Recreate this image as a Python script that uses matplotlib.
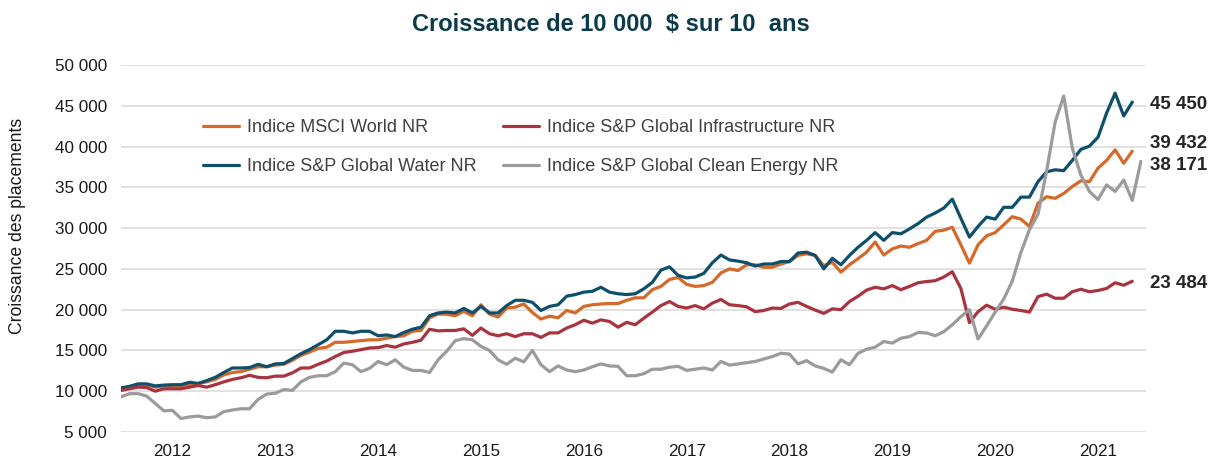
"""
Croissance de 10 000 $ sur 10 ans - four index lines, monthly.
"""

import matplotlib

matplotlib.use("Agg")
import matplotlib.pyplot as plt
import pandas as pd
from matplotlib.ticker import FuncFormatter

plt.rcParams["font.family"] = ["Liberation Sans", "DejaVu Sans"]

# monthly points, July 2011 onwards
months = pd.date_range("2011-07-01", periods=120, freq="MS")

msci_world = [
    10400, 10500, 10800, 10800, 10500, 10650, 10650, 10650, 10850, 10950,
    11150, 11450, 12000, 12300, 12400, 12700, 13000, 13000, 13200, 13300,
    13800, 14400, 14800, 15250,
    15400, 16000, 16000, 16100, 16200, 16300, 16300, 16500, 16700, 16800,
    17350, 17450, 19000, 19450, 19450, 19250, 19800, 19250, 20600, 19450,
    19100, 20200, 20300, 20700,
    19650, 18850, 19200, 19000, 19900, 19600, 20400, 20600, 20700, 20750,
    20750, 21150, 21450, 21450, 22450, 22850, 23700, 23950, 23100, 22850,
    22950, 23350, 24500,
    25000, 24800, 25500, 25500, 25200, 25200, 25600, 25900, 26650, 26850,
    26650, 25400, 25800, 24600, 25500, 26250, 27050, 28300, 26700, 27450,
    27800, 27650, 28100, 28500,
    29600, 29750, 30100, 27950, 25700, 27950, 29050, 29450, 30400, 31400,
    31100, 30200, 33050, 33850, 33650, 34250, 35100, 35800, 35700, 37350,
    38300, 39600, 37950, 39432,
]

global_water = [
    10400, 10600, 10900, 10900, 10650, 10750, 10800, 10800, 11100, 10950,
    11300, 11700, 12300, 12850, 12850, 12900, 13300, 13000, 13350, 13400,
    14000, 14600, 15100, 15700,
    16300, 17350, 17350, 17150, 17350, 17350, 16800, 16900, 16700, 17200,
    17600, 17850, 19250, 19600, 19700, 19600, 20150, 19600, 20400, 19600,
    19600, 20500, 21150, 21150,
    20900, 19900, 20400, 20600, 21650, 21850, 22150, 22250, 22750, 22150,
    21950, 21850, 21950, 22550, 23350, 24850, 25250, 24200, 23900, 24000,
    24450, 25750, 26700,
    26100, 25950, 25750, 25350, 25600, 25600, 25900, 25900, 26950, 27050,
    26650, 25000, 26300, 25500, 26650, 27650, 28500, 29450, 28500, 29450,
    29300, 29900, 30550, 31350,
    31850, 32450, 33550, 31200, 28900, 30200, 31350, 31100, 32550, 32550,
    33800, 33800, 35700, 36900, 37150, 37050, 38300, 39650, 40050, 41150,
    44100, 46550, 43750, 45450,
]

global_infra = [
    10100, 10300, 10500, 10450, 10000, 10300, 10300, 10300, 10500, 10700,
    10500, 10800, 11150, 11450, 11650, 11950, 11700, 11650, 11850, 11850,
    12250, 12850, 12850, 13300,
    13700, 14250, 14750, 14900, 15100, 15300, 15350, 15600, 15400, 15800,
    16000, 16250, 17600, 17400, 17450, 17450, 17650, 16850, 17750, 17050,
    16800, 17050, 16700, 17050,
    17050, 16600, 17150, 17150, 17750, 18150, 18700, 18350, 18750, 18550,
    17850, 18450, 18150, 18950, 19700, 20500, 21000, 20400, 20200, 20500,
    20100, 20800, 21250,
    20600, 20500, 20350, 19750, 19900, 20200, 20150, 20700, 20900, 20400,
    19950, 19550, 20100, 20000, 21000, 21650, 22400, 22750, 22550, 22950,
    22450, 22850, 23300, 23450,
    23550, 24000, 24650, 22600, 18400, 19750, 20550, 20050, 20300, 20050,
    19900, 19700, 21600, 21900, 21400, 21400, 22200, 22500, 22200, 22350,
    22600, 23300, 23000, 23484,
]

clean_energy = [
    9300, 9700, 9700, 9400, 8500, 7600, 7650, 6650, 6850, 6950,
    6750, 6850, 7500, 7700, 7850, 7850, 9000, 9650, 9750, 10200,
    10100, 11150, 11700, 11900,
    11900, 12400, 13450, 13250, 12400, 12800, 13650, 13250, 13850, 12950,
    12550, 12550, 12300, 13850, 14900, 16200, 16450, 16300, 15500, 15000,
    13850, 13300, 14050, 13600,
    15000, 13250, 12400, 13100, 12600, 12400, 12600, 13000, 13350, 13100,
    13050, 11900, 11900, 12150, 12700, 12700, 12950, 13050, 12550, 12700,
    12850, 12600, 13650,
    13200, 13350, 13500, 13650, 13950, 14250, 14650, 14550, 13350, 13750,
    13100, 12800, 12350, 13850, 13250, 14650, 15150, 15400, 16100, 15900,
    16500, 16700, 17200, 17150,
    16800, 17300, 18150, 19150, 20000, 16400, 18000, 19700, 21300, 23500,
    27000, 29800, 31700, 37000, 43000, 46200, 39800, 36500, 34500, 33500,
    35300, 34500, 35900, 33400, 38171,
]

series = [
    ("Indice MSCI World NR", msci_world, "#D5692A", 5.5),
    ("Indice S&P Global Water NR", global_water, "#0E4F6B", -2),
    ("Indice S&P Global Infrastructure NR", global_infra, "#A8343F", -1.5),
    ("Indice S&P Global Clean Energy NR", clean_energy, "#9B9B9B", -3),
]

TITLE = "Croissance de 10 000  $ sur 10  ans"
Y_LABEL = "Croissance des placements"


def space_thousands(v, _pos):
    return f"{v:,.0f}".replace(",", " ")


def main() -> None:
    fig = plt.figure(figsize=(12.14, 4.66), dpi=100)
    ax = fig.add_axes([121 / 1214, 1 - 432 / 466, 1025 / 1214, 367 / 466])

    for label, values, color, dy in series:
        ax.plot(range(len(values)), values, color=color, linewidth=2.3,
                label=label, solid_capstyle="round", solid_joinstyle="round")
        ax.annotate(f"{values[-1]:,.0f}".replace(",", " "),
                    xy=(1.0, values[-1]), xycoords=("axes fraction", "data"),
                    xytext=(3, dy), textcoords="offset points",
                    ha="left", va="center", fontsize=13.5, fontweight="bold",
                    color="#262626")

    ax.set_xlim(0, 119.6)
    ax.set_ylim(5000, 50000)
    ax.set_yticks(range(5000, 50001, 5000))
    ax.yaxis.set_major_formatter(FuncFormatter(space_thousands))

    jan = [i for i, m in enumerate(months) if m.month == 1]
    ax.set_xticks(jan)
    ax.set_xticklabels([str(months[i].year) for i in jan])

    ax.tick_params(axis="both", length=0, labelsize=12.3, colors="#1A1A1A")
    ax.tick_params(axis="x", pad=9)
    ax.tick_params(axis="y", pad=10)
    for spine in ax.spines.values():
        spine.set_visible(False)
    ax.grid(axis="y", color="#D9D9D9", linewidth=1.1)
    ax.set_axisbelow(True)

    leg = ax.legend(loc="center", bbox_to_anchor=(0.39, 0.776), ncol=2,
                    frameon=False, fontsize=13, handlelength=1.95,
                    handletextpad=0.45, columnspacing=1.5, labelspacing=1.22)
    for txt in leg.get_texts():
        txt.set_color("#404040")

    fig.text(0.503, 0.947, TITLE, ha="center", va="center", fontsize=17,
             fontweight="bold", color="#0B3A4A")
    fig.text(18 / 1214, 1 - 226 / 466, Y_LABEL, rotation=90, ha="center",
             va="center", fontsize=12.7, color="#1A1A1A")

    fig.savefig("out.png", dpi=100)
    plt.close(fig)


if __name__ == "__main__":
    main()
